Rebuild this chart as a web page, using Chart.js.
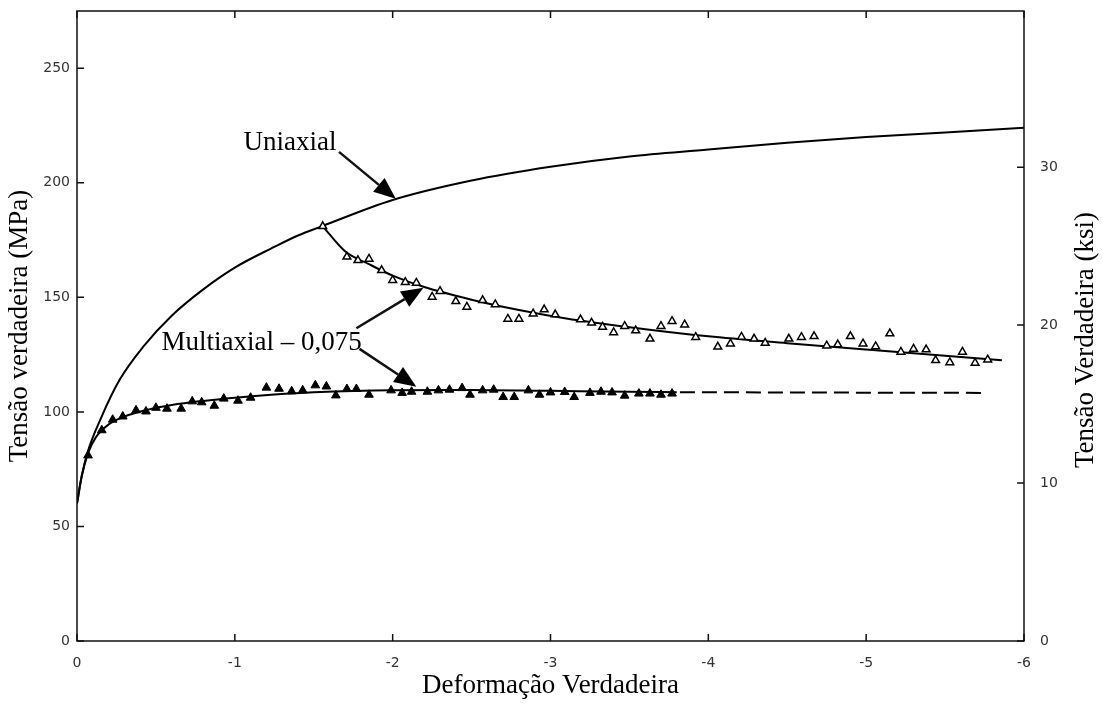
<!DOCTYPE html>
<html>
<head>
<meta charset="utf-8">
<title>Tensão verdadeira x Deformação verdadeira</title>
<script src="https://cdn.jsdelivr.net/npm/chart.js@4.4.1/dist/chart.umd.min.js"></script>
<style>
  html, body { margin: 0; padding: 0; background: #fff; }
  #wrap { width: 1102px; height: 704px; }
</style>
</head>
<body>
<div id="wrap"><canvas id="myChart"></canvas></div>
<script>
// curva uniaxial
var uniStrain = [0, -0.03, -0.07, -0.15, -0.27, -0.42, -0.6, -0.8, -1.0, -1.25, -1.4, -1.55, -2.0, -2.5, -3.0, -3.5, -4.0, -4.5, -5.0, -5.5, -6.0];
var uniStress = [60, 72, 83, 97, 114, 128.5, 142, 153.5, 163, 172, 177, 181, 192.5, 201, 207, 211.5, 214.5, 217.5, 220, 222, 224];

// multiaxial (triangulos cheios) - ajuste
var multiStrain = [0, -0.03, -0.07, -0.12, -0.2, -0.3, -0.45, -0.6, -0.8, -1.0, -1.25, -1.5, -2.0, -2.5, -3.0, -3.5, -3.8];
var multiStress = [60, 72, 82, 89, 94.5, 98, 101, 103, 104.8, 106.2, 107.6, 108.6, 109.5, 109.6, 109.2, 108.8, 108.6];
// extrapolacao tracejada
var extraStrain = [-3.82, -4.5, -5.0, -5.75];
var extraStress = [108.6, 108.5, 108.4, 108.3];

// pontos medidos (triangulos cheios)
var solidStrain = [-0.07, -0.157, -0.226, -0.29, -0.374, -0.437, -0.5, -0.57, -0.66, -0.73, -0.79, -0.87, -0.93, -1.02, -1.1,
  -1.2, -1.28, -1.36, -1.43, -1.51, -1.58, -1.64, -1.71, -1.77, -1.85, -1.99, -2.06, -2.12, -2.22, -2.29, -2.36, -2.44, -2.49,
  -2.57, -2.64, -2.7, -2.77, -2.86, -2.93, -3.0, -3.09, -3.15, -3.25, -3.32, -3.39, -3.47, -3.56, -3.63, -3.7, -3.77];
var solidStress = [81, 92, 96.6, 98, 100.7, 100.2, 101.8, 101.4, 101.4, 104.6, 104.2, 102.7, 105.8, 104.9, 106.2,
  110.6, 110.1, 109, 109.4, 111.6, 111.1, 107.2, 110, 110, 107.5, 109.4, 108.3, 108.8, 108.8, 109.4, 109.7, 110.4, 107.5,
  109.4, 109.7, 106.5, 106.5, 109.4, 107.5, 108.5, 108.7, 106.5, 108.3, 108.8, 108.5, 107.1, 108, 108, 107.5, 108];

// pre-deformado (triangulos vazios) - ajuste
var preStrain = [-1.557, -1.7, -1.85, -2.0, -2.2, -2.5, -2.8, -3.1, -3.5, -4.0, -4.5, -5.0, -5.5, -5.86];
var preStress = [181, 170, 164.5, 159.5, 154.5, 149, 144.5, 140.8, 137, 133, 130, 127.2, 124.5, 122.5];

// pontos medidos (triangulos vazios)
var openStrain = [-1.557, -1.71, -1.78, -1.85, -1.93, -2.0, -2.08, -2.15, -2.25, -2.3, -2.4, -2.47, -2.57, -2.65, -2.73, -2.8,
  -2.89, -2.96, -3.03, -3.19, -3.26, -3.33, -3.4, -3.47, -3.54, -3.63, -3.7, -3.77, -3.85, -3.92, -4.06, -4.14, -4.21, -4.29,
  -4.36, -4.51, -4.59, -4.67, -4.75, -4.82, -4.9, -4.98, -5.06, -5.15, -5.22, -5.3, -5.38, -5.44, -5.53, -5.61, -5.69, -5.77];
var openStress = [181, 167.7, 166.2, 166.8, 161.8, 157.5, 156.6, 156.3, 150.2, 152.7, 148.3, 145.8, 148.7, 146.9, 140.6, 140.6,
  142.9, 144.7, 142.5, 140.3, 138.9, 137.1, 134.7, 137.4, 135.5, 131.9, 137.4, 139.6, 138.1, 132.6, 128.4, 129.8, 132.7, 131.9,
  130.1, 131.9, 132.6, 133, 128.9, 129.4, 133, 129.8, 128.6, 134.2, 126.2, 127.5, 127.2, 122.5, 121.6, 126.2, 121.4, 122.8];

// escalas
var xTicks = [0, -1, -2, -3, -4, -5, -6];
var mpaTicks = [0, 50, 100, 150, 200, 250];
var ksiTicks = [0, 10, 20, 30];
var mpaPerKsi = 6.895;

function pts(xs, ys) {
  return xs.map(function (x, i) { return { x: x, y: ys[i] }; });
}

var serif = '"Liberation Serif", "Times New Roman", serif';
var tickFont = { family: '"DejaVu Sans", sans-serif', size: 14 };

// textos e setas (em unidades dos dados)
var notes = [
  { text: 'Uniaxial', x: -1.35, y: 217.5, arrows: [[-1.66, 213.5, -2.02, 193]] },
  { text: 'Multiaxial \u2013 0,075', x: -1.17, y: 130, arrows: [[-1.77, 136.5, -2.195, 154.2], [-1.79, 127.5, -2.15, 111]] }
];

function noPad(s) {
  s.paddingTop = 0; s.paddingBottom = 0; s.paddingLeft = 0; s.paddingRight = 0;
}

var frame = {
  id: 'frame',
  afterDraw: function (chart) {
    var ctx = chart.ctx, a = chart.chartArea;
    var sx = chart.scales.x, sy = chart.scales.y, sk = chart.scales.y2;
    ctx.save();
    ctx.strokeStyle = '#111';
    ctx.lineWidth = 1.5;
    ctx.strokeRect(a.left, a.top, a.right - a.left, a.bottom - a.top);
    ctx.beginPath();
    xTicks.forEach(function (v) {
      var p = sx.getPixelForValue(v);
      ctx.moveTo(p, a.bottom); ctx.lineTo(p, a.bottom - 7);
      ctx.moveTo(p, a.top); ctx.lineTo(p, a.top + 7);
    });
    mpaTicks.forEach(function (v) {
      var p = sy.getPixelForValue(v);
      ctx.moveTo(a.left, p); ctx.lineTo(a.left + 7, p);
    });
    ksiTicks.forEach(function (v) {
      var p = sk.getPixelForValue(v);
      ctx.moveTo(a.right, p); ctx.lineTo(a.right - 7, p);
    });
    ctx.stroke();

    // titulo do eixo direito (lido de baixo para cima)
    ctx.fillStyle = '#000';
    ctx.font = '27px ' + serif;
    ctx.textAlign = 'center';
    ctx.textBaseline = 'middle';
    ctx.save();
    ctx.translate(1086, (a.top + a.bottom) / 2 + 14);
    ctx.rotate(-Math.PI / 2);
    ctx.fillText('Tensão Verdadeira (ksi)', 0, 0);
    ctx.restore();

    // anotacoes
    notes.forEach(function (n) {
      ctx.font = '27px ' + serif;
      ctx.fillText(n.text, sx.getPixelForValue(n.x), sy.getPixelForValue(n.y));
      n.arrows.forEach(function (ar) {
        var x1 = sx.getPixelForValue(ar[0]), y1 = sy.getPixelForValue(ar[1]);
        var x2 = sx.getPixelForValue(ar[2]), y2 = sy.getPixelForValue(ar[3]);
        var ang = Math.atan2(y2 - y1, x2 - x1);
        var hl = 22, hw = 9;
        var bx = x2 - hl * Math.cos(ang), by = y2 - hl * Math.sin(ang);
        ctx.lineWidth = 2.5;
        ctx.beginPath();
        ctx.moveTo(x1, y1); ctx.lineTo(bx, by);
        ctx.stroke();
        ctx.beginPath();
        ctx.moveTo(x2, y2);
        ctx.lineTo(bx + hw * Math.sin(ang), by - hw * Math.cos(ang));
        ctx.lineTo(bx - hw * Math.sin(ang), by + hw * Math.cos(ang));
        ctx.closePath();
        ctx.fill();
      });
    });
    ctx.restore();
  }
};

var ctx = document.getElementById('myChart').getContext('2d');
var myChart = new Chart(ctx, {
  type: 'scatter',
  data: {
    datasets: [{
      label: 'Multiaxial (pontos)',
      data: pts(solidStrain, solidStress),
      pointStyle: 'triangle',
      pointRadius: 5,
      backgroundColor: '#000',
      borderColor: '#000',
      borderWidth: 1
    }, {
      label: 'Pré-deformado (pontos)',
      data: pts(openStrain, openStress),
      pointStyle: 'triangle',
      pointRadius: 4.5,
      backgroundColor: '#fff',
      borderColor: '#000',
      borderWidth: 1.5
    }, {
      label: 'Uniaxial',
      data: pts(uniStrain, uniStress),
      showLine: true,
      pointRadius: 0,
      borderColor: '#000',
      borderWidth: 2,
      cubicInterpolationMode: 'monotone'
    }, {
      label: 'Multiaxial',
      data: pts(multiStrain, multiStress),
      showLine: true,
      pointRadius: 0,
      borderColor: '#000',
      borderWidth: 2,
      cubicInterpolationMode: 'monotone'
    }, {
      label: 'Extrapolação',
      data: pts(extraStrain, extraStress),
      showLine: true,
      pointRadius: 0,
      borderColor: '#000',
      borderWidth: 2,
      borderDash: [15, 7]
    }, {
      label: 'Pré-deformado',
      data: pts(preStrain, preStress),
      showLine: true,
      pointRadius: 0,
      borderColor: '#000',
      borderWidth: 2,
      cubicInterpolationMode: 'monotone'
    }]
  },
  options: {
    responsive: true,
    maintainAspectRatio: false,
    animation: false,
    layout: { padding: { top: 11, left: 0, right: 0, bottom: 0 } },
    plugins: {
      legend: { display: false },
      tooltip: { enabled: false }
    },
    scales: {
      x: {
        type: 'linear',
        position: 'bottom',
        min: -6,
        max: 0,
        reverse: true,
        afterBuildTicks: function (s) { s.ticks = xTicks.map(function (v) { return { value: v }; }); },
        afterFit: function (s) { s.height = 63; noPad(s); },
        grid: { display: false, drawTicks: false },
        border: { display: false },
        ticks: { font: tickFont, color: '#333', padding: 14 },
        title: { display: true, text: 'Deformação Verdadeira', color: '#000', font: { family: serif, size: 27 }, padding: { top: 0, bottom: 2 } }
      },
      y: {
        type: 'linear',
        position: 'left',
        min: 0,
        max: 275,
        afterBuildTicks: function (s) { s.ticks = mpaTicks.map(function (v) { return { value: v }; }); },
        afterFit: function (s) { s.width = 77; noPad(s); },
        grid: { display: false, drawTicks: false },
        border: { display: false },
        ticks: { font: tickFont, color: '#333', padding: 7 },
        title: { display: true, text: 'Tensão verdadeira (MPa)', color: '#000', font: { family: serif, size: 27 }, padding: { top: 4, bottom: 0 } }
      },
      y2: {
        type: 'linear',
        position: 'right',
        display: true,
        min: 0,
        max: 275 / mpaPerKsi,
        afterBuildTicks: function (s) { s.ticks = ksiTicks.map(function (v) { return { value: v }; }); },
        afterFit: function (s) { s.width = 78; noPad(s); },
        grid: { display: false, drawTicks: false },
        border: { display: false },
        ticks: { font: tickFont, color: '#333', padding: 16 }
      }
    }
  },
  plugins: [frame]
});
</script>
</body>
</html>
